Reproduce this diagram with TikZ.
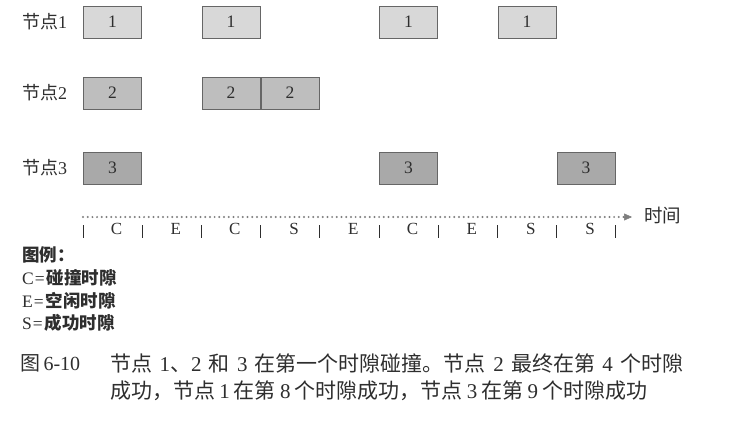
\documentclass[tikz,border=0pt]{standalone}
\usepackage{fontspec}
\setmainfont{Liberation Serif}
\newfontfamily\cjk{Noto Sans CJK SC}
\usetikzlibrary{arrows.meta}
\newcommand\zh[1]{{\cjk #1}}
\definecolor{txt}{HTML}{2E2E2E}
\definecolor{boxline}{HTML}{666666}
\definecolor{fillA}{HTML}{D8D8D8}
\definecolor{fillB}{HTML}{BEBEBE}
\definecolor{fillC}{HTML}{A9A9A9}
\definecolor{dotgray}{HTML}{7E7E7E}
\begin{document}
\begin{tikzpicture}[x=1pt,y=-1pt,
  slotbox/.style={draw=boxline, line width=0.8pt, minimum width=58pt, minimum height=32pt,
    inner sep=0pt, font=\fontsize{17.5}{17.5}\selectfont, text=txt},
  boxA/.style={slotbox, fill=fillA},
  boxB/.style={slotbox, fill=fillB},
  boxC/.style={slotbox, fill=fillC},
  rowlabel/.style={anchor=west, inner sep=0pt, text=txt, font=\fontsize{18}{18}\selectfont},
  slotlabel/.style={inner sep=0pt, text=txt, font=\fontsize{17}{17}\selectfont},
  tickline/.style={draw=txt, line width=0.7pt},
  dotline/.style={draw=dotgray, line width=2.2pt, line cap=round, dash pattern=on 0pt off 4.7pt},
  tiparrow/.style={draw=dotgray, line width=0.5pt, -{Triangle[length=8pt,width=7pt,fill=dotgray]}},
  legend/.style={anchor=west, inner sep=0pt, text=txt, font=\fontsize{17.5}{17.5}\selectfont},
  caption/.style={anchor=west, inner sep=0pt, text=txt, font=\fontsize{21}{21}\selectfont}
]
\useasboundingbox[fill=white] (0,0) rectangle (741,420);

% row labels
\node[rowlabel] (lab1) at (22,22) {\zh{节点}1};
\node[rowlabel] (lab2) at (22,93) {\zh{节点}2};
\node[rowlabel] (lab3) at (22,168) {\zh{节点}3};

% node 1 transmissions
\foreach \i in {1,3,6,8}
  \node[boxA] (a\i) at ({83+(\i-1)*59.2+29.5},22) {1};
% node 2 transmissions
\foreach \i in {1,3,4}
  \node[boxB] (b\i) at ({83+(\i-1)*59.2+29.5},93) {2};
% node 3 transmissions
\foreach \i in {1,6,9}
  \node[boxC] (c\i) at ({83+(\i-1)*59.2+29.5},168) {3};

% time axis
\coordinate (t0) at (83,217);
\coordinate (t1) at (624,217);
\coordinate (t2) at (632,217);
\draw[dotline] (t0) -- (t1);
\draw[tiparrow] (t1) -- (t2);
\node[anchor=west, inner sep=0pt, text=txt, font=\fontsize{18.5}{18.5}\selectfont] (timelab) at (644,216) {\zh{时间}};

% ticks
\foreach \k in {0,...,9}
  \draw[tickline] ({83+\k*59.2},225) -- ({83+\k*59.2},238);

% slot labels
\foreach \l [count=\i] in {C,E,C,S,E,C,E,S,S}
  \node[slotlabel] (s\i) at ({83+(\i-1)*59.2+29.5+4},229) {\l};

% legend
\node[legend] (lg0) at (22,255) {\zh{\bfseries 图例：}};
\node[legend] (lg1) at (22,278) {C\kern1pt=\kern2pt\zh{\bfseries 碰撞时隙}};
\node[legend] (lg2) at (22,301) {E\kern1pt=\kern2pt\zh{\bfseries 空闲时隙}};
\node[legend] (lg3) at (22,323) {S\kern1pt=\kern2pt\zh{\bfseries 成功时隙}};

% caption
\node[caption, font=\fontsize{20}{20}\selectfont] (capnum) at (20,363) {\zh{图}\,6-10};
\node[caption] (cap1) at (110,363) {\makebox[573pt][s]{\zh{节点} 1\zh{、}2 \zh{和} 3 \zh{在第一个时隙碰撞。节点} 2 \zh{最终在第} 4 \zh{个时隙}}};
\node[caption] (cap2) at (110,391) {\makebox[537pt][s]{\zh{成功，节点} 1 \zh{在第} 8 \zh{个时隙成功，节点} 3 \zh{在第} 9 \zh{个时隙成功}}};
\end{tikzpicture}
\end{document}
